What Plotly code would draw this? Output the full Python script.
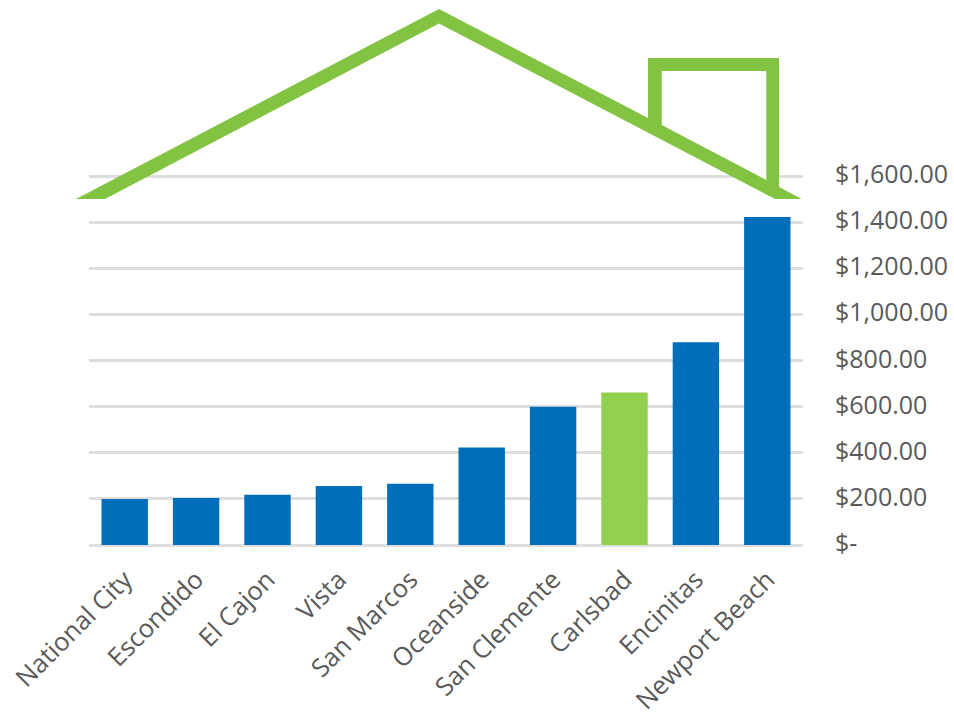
import plotly.graph_objects as go

W, H = 954, 715

cities = ["National City", "Escondido", "El Cajon", "Vista", "San Marcos",
          "Oceanside", "San Clemente", "Carlsbad", "Encinitas", "Newport Beach"]
prices = [200, 204, 218, 256, 266, 423, 600, 662, 880, 1424]
bar_colors = ["#006EB9"] * 7 + ["#92D050"] + ["#006EB9"] * 2

tick_values = [0, 200, 400, 600, 800, 1000, 1200, 1400, 1600]
tick_labels = ["$-", "$200.00", "$400.00", "$600.00", "$800.00",
               "$1,000.00", "$1,200.00", "$1,400.00", "$1,600.00"]

# Outline of the roof and chimney, in page pixels
house_outline = [
    (76, 199), (439, 9), (648, 118), (648, 58), (779, 58), (779, 187),
    (801.7, 199), (775, 199), (439, 23.5), (105, 199),
]
chimney_opening = [(661.7, 125), (661.7, 71), (766.3, 71), (766.3, 180)]


def page_path(points):
    parts = [f"{x / W:.5f},{1 - y / H:.5f}" for x, y in points]
    return "M" + " L".join(parts) + " Z"


fig = go.Figure(go.Bar(x=cities, y=prices, marker_color=bar_colors,
                       marker_line_width=0, width=0.65))

fig.add_shape(type="path", xref="paper", yref="paper", layer="above",
              path=page_path(house_outline), fillcolor="#82C341", line_width=0)
# Chimney opening, knocked out in white over the roof fill
fig.add_shape(type="path", xref="paper", yref="paper", layer="above",
              path=page_path(chimney_opening), fillcolor="#FFFFFF", line_width=0)

y_font = dict(family="Open Sans, sans-serif", size=25, color="#595959")
x_font = dict(family="Open Sans, sans-serif", size=25.5, color="#595959")

# Value range runs a little past 0 and 1600 so both end gridlines are kept
px_per_unit = 368.5 / 1600
pad = 20
fig.update_layout(
    width=W, height=H, margin=dict(l=0, r=0, t=0, b=0, autoexpand=False),
    paper_bgcolor="white", plot_bgcolor="white", showlegend=False,
    xaxis=dict(domain=[89 / W, 803 / W], tickangle=-45, tickfont=x_font, automargin=False,
               showgrid=False, ticks="", showline=False, zeroline=False,
               ticklabelstandoff=9),
    yaxis=dict(domain=[1 - (545 + pad * px_per_unit) / H, 1 - (176.5 - pad * px_per_unit) / H],
               range=[-pad, 1600 + pad], side="right", automargin=False,
               tickvals=tick_values, ticktext=tick_labels, tickfont=y_font,
               showgrid=True, gridcolor="#DEDEDE", gridwidth=2.5,
               zeroline=False, showline=False, ticks="", ticklabelstandoff=31,
               ticklabelshift=-2),
)

fig.write_html("out.html")
